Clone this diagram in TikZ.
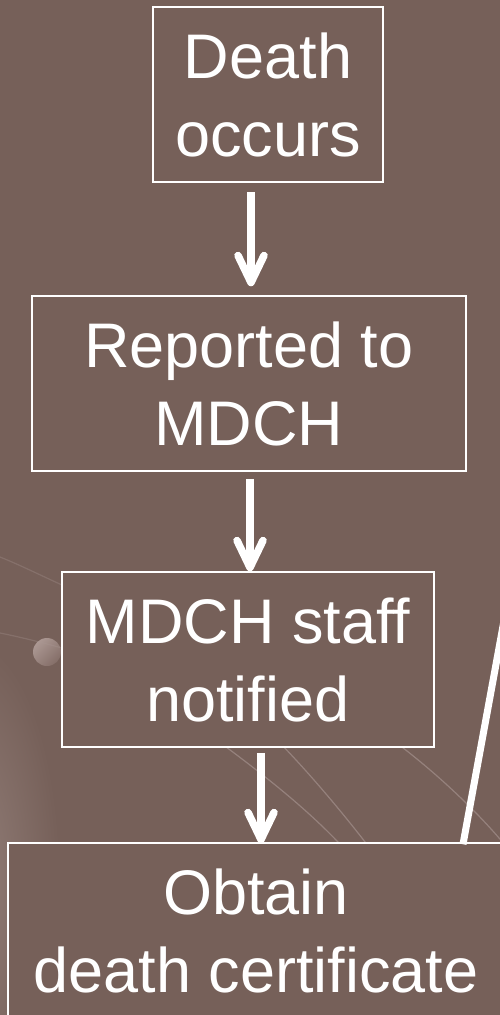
\documentclass[tikz,border=0pt]{standalone}
\usepackage{fontspec}
\setmainfont{Liberation Sans}
\usetikzlibrary{arrows.meta}
\definecolor{bgc}{RGB}{118,96,89}
\definecolor{bglight}{RGB}{146,126,120}
\definecolor{arcc}{RGB}{170,152,148}
\definecolor{dotlight}{RGB}{172,152,147}
\definecolor{dotdark}{RGB}{132,110,104}
\begin{document}
\begin{tikzpicture}[x=1pt,y=-1pt,
  box/.style={draw=white, line width=1.5pt, fill=bgc, text=white, inner sep=0pt,
    minimum height=175pt, align=center, text height=138pt, text depth=15pt,
    font=\fontsize{63}{78}\selectfont},
  arr/.style={white, line width=7.5pt, -{Straight Barb[length=27pt,width=26pt,round]}},
  deco/.style={arcc, line width=1.2pt, opacity=0.6},
  diag/.style={white, line width=7pt}]
\fill[bgc] (0,0) rectangle (500,1015);
\useasboundingbox (0,0) rectangle (500,1015);
% background decoration
\shade[inner color=bglight, outer color=bgc] (-30,880) ellipse [x radius=90, y radius=240];
\shade[left color=dotlight, right color=dotdark, shading angle=45] (47,652) circle [radius=14];
\draw[deco] (210,735) .. controls (260,772) and (310,810) .. (350,855);
\draw[deco] (275,738) .. controls (305,768) and (345,815) .. (375,855);
\draw[deco] (390,738) .. controls (440,775) and (480,815) .. (505,845);
\draw[deco, opacity=0.3] (0,557) .. controls (20,565) and (40,575) .. (62,585);
\draw[deco, opacity=0.3] (0,633) .. controls (20,637) and (40,642) .. (62,648);
% boxes
\node[box, minimum width=230pt] (b1) at (268,94.5) {Death\hspace{0.278em}\\occurs};
\node[box, minimum width=434pt] (b2) at (249,383.5) {Reported to\\MDCH};
\node[box, minimum width=372pt] (b3) at (248,659.5) {MDCH staff\\notified};
\node[box, minimum width=496pt] (b4) at (256,930.5) {Obtain\\death certificate};
% arrows
\draw[arr] ([xshift=-17pt,yshift=-9.5pt]b1.south) -- ([xshift=2pt,yshift=9pt]b2.north);
\draw[arr] ([xshift=1pt,yshift=-7pt]b2.south) -- ([xshift=2pt]b3.north);
\draw[arr] ([xshift=13pt,yshift=-5pt]b3.south) -- ([xshift=5pt,yshift=-1pt]b4.north);
% diagonal line
\coordinate (dtop) at (510,588);
\draw[diag] ([xshift=207pt,yshift=-2pt]b4.north) -- (dtop);
\end{tikzpicture}
\end{document}
